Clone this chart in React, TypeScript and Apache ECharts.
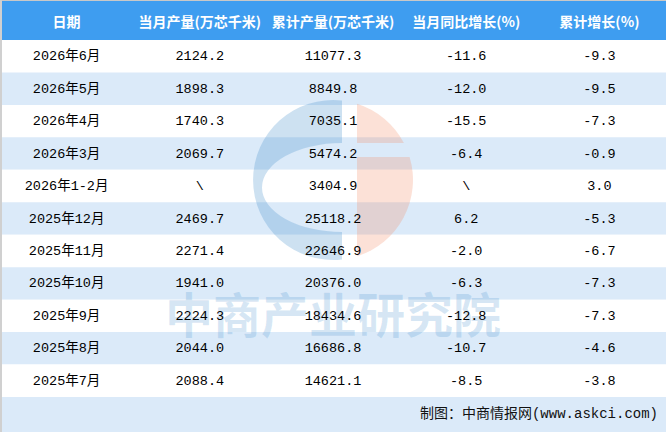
import React, { useEffect, useRef } from 'react';
import * as echarts from 'echarts';

const headers = ['日期', '当月产量(万芯千米)', '累计产量(万芯千米)', '当月同比增长(%)', '累计增长(%)'];
const dates = ['2026年6月', '2026年5月', '2026年4月', '2026年3月', '2026年1-2月', '2025年12月', '2025年11月', '2025年10月', '2025年9月', '2025年8月', '2025年7月'];
const monthlyOutput: (number | null)[] = [2124.2, 1898.3, 1740.3, 2069.7, null, 2469.7, 2271.4, 1941.0, 2224.3, 2044.0, 2088.4];
const cumulativeOutput: (number | null)[] = [11077.3, 8849.8, 7035.1, 5474.2, 3404.9, 25118.2, 22646.9, 20376.0, 18434.6, 16686.8, 14621.1];
const monthlyYoY: (number | null)[] = [-11.6, -12.0, -15.5, -6.4, null, 6.2, -2.0, -6.3, -12.8, -10.7, -8.5];
const cumulativeGrowth: (number | null)[] = [-9.3, -9.5, -7.3, -0.9, 3.0, -5.3, -6.7, -7.3, -7.3, -4.6, -3.8];
const footerText = '制图：中商情报网(www.askci.com)';
const watermarkText = '中商产业研究院';

const fmt = (v: number | null) => (v === null ? '\\' : v.toFixed(1));

const W = 666;
const H = 432;
const HEADER_H = 40;
const FOOTER_H = 35;
const STRIPE = '#dbeaf9';
const HEADER_BG = '#3e9df0';
const BODY_FONT = '"Liberation Mono", "Noto Sans CJK SC", monospace';

// watermark logo shapes (local coords, circle centred at 0,0, r=80)
const bluePath = 'M 9 -79.5 A 80 80 0 1 0 9 79.5 L 9 52 A 80 44.5 0 0 1 9 -37 Z';
const orangeDot = 'M 24 -76.3 A 80 80 0 0 1 70.9 -37 L 24 -37 Z';
const orangeStem = 'M 24 -23 L 76.6 -23 A 80 80 0 0 1 24 76.3 Z';
echarts.graphic.registerShape('wmBlue', echarts.graphic.extendPath(bluePath, {}) as any);
echarts.graphic.registerShape('wmDot', echarts.graphic.extendPath(orangeDot, {}) as any);
echarts.graphic.registerShape('wmStem', echarts.graphic.extendPath(orangeStem, {}) as any);

export default function App() {
  const ref = useRef<HTMLDivElement>(null);
  useEffect(() => {
    document.body.style.margin = '0';
    const chart = echarts.init(ref.current!, null, { renderer: 'svg' });
    const rows = dates.map((_, i) => [0, i]);
    const colW = W / headers.length;

    const option: any = {
      animation: false,
      backgroundColor: '#ffffff',
      grid: { left: 0, right: 0, top: HEADER_H, bottom: FOOTER_H, containLabel: false },
      xAxis: { type: 'value', min: 0, max: headers.length, show: false },
      yAxis: { type: 'category', data: dates, inverse: true, show: false },
      series: [
        {
          type: 'custom',
          z: 1,
          silent: true,
          encode: { x: 0, y: 1 },
          data: rows,
          renderItem: (params: any, api: any) => {
            const idx = api.value(1) as number;
            const yc = api.coord([0, idx])[1];
            const h = api.size([0, 1])[1];
            const cs = params.coordSys;
            return {
              type: 'rect',
              shape: { x: cs.x, y: yc - h / 2, width: cs.width, height: h },
              style: { fill: idx % 2 === 1 ? STRIPE : '#ffffff' },
            };
          },
        },
        {
          type: 'custom',
          z: 5,
          silent: true,
          encode: { x: 0, y: 1 },
          data: rows,
          renderItem: (params: any, api: any) => {
            const idx = api.value(1) as number;
            const cells = [
              dates[idx],
              fmt(monthlyOutput[idx]),
              fmt(cumulativeOutput[idx]),
              fmt(monthlyYoY[idx]),
              fmt(cumulativeGrowth[idx]),
            ];
            const children = cells.map((t, c) => {
              const p = api.coord([c + 0.5, idx]);
              return {
                type: 'text',
                x: p[0],
                y: p[1] + 0.5,
                style: {
                  text: t,
                  fill: '#000000',
                  fontSize: 13.5,
                  fontFamily: BODY_FONT,
                  align: 'center',
                  verticalAlign: 'middle',
                },
              };
            });
            return { type: 'group', children };
          },
        },
      ],
      graphic: [
        // watermark logo
        { type: 'wmBlue', x: 333, y: 180, z: 3, silent: true, style: { fill: 'rgba(70,145,205,0.27)' } },
        { type: 'wmDot', x: 333, y: 180, z: 3, silent: true, style: { fill: 'rgba(242,140,100,0.26)' } },
        { type: 'wmStem', x: 333, y: 180, z: 3, silent: true, style: { fill: 'rgba(242,140,100,0.26)' } },
        {
          type: 'text',
          x: 333,
          y: 312,
          z: 3,
          silent: true,
          style: {
            text: watermarkText,
            fill: 'rgba(70,145,205,0.22)',
            fontSize: 48,
            fontWeight: 'bold',
            fontFamily: '"Noto Sans CJK SC", sans-serif',
            align: 'center',
            verticalAlign: 'middle',
          },
        },
        // header
        {
          type: 'rect',
          z: 6,
          shape: { x: 0, y: 0, width: W, height: HEADER_H },
          style: { fill: HEADER_BG },
        },
        ...headers.map((h, c) => ({
          type: 'text',
          z: 7,
          x: colW * (c + 0.5),
          y: 21,
          style: {
            text: h,
            fill: '#ffffff',
            fontSize: 14,
            fontWeight: 'bold',
            fontFamily: '"Noto Sans CJK SC", sans-serif',
            align: 'center',
            verticalAlign: 'middle',
          },
        })),
        // footer
        {
          type: 'rect',
          z: 6,
          shape: { x: 0, y: H - FOOTER_H, width: W, height: FOOTER_H },
          style: { fill: STRIPE },
        },
        {
          type: 'text',
          z: 7,
          x: 658,
          y: 414,
          style: {
            text: footerText,
            fill: '#111111',
            fontSize: 14,
            fontFamily: BODY_FONT,
            align: 'right',
            verticalAlign: 'middle',
          },
        },
        // borders
        { type: 'rect', z: 8, shape: { x: 0, y: 0, width: W, height: 1 }, style: { fill: '#c8c8c8' } },
        { type: 'rect', z: 8, shape: { x: 0, y: 0, width: 2, height: H }, style: { fill: '#d0d0d0' } },
      ],
    };
    chart.setOption(option);
    return () => chart.dispose();
  }, []);
  return <div ref={ref} style={{ width: W, height: H }} />;
}
